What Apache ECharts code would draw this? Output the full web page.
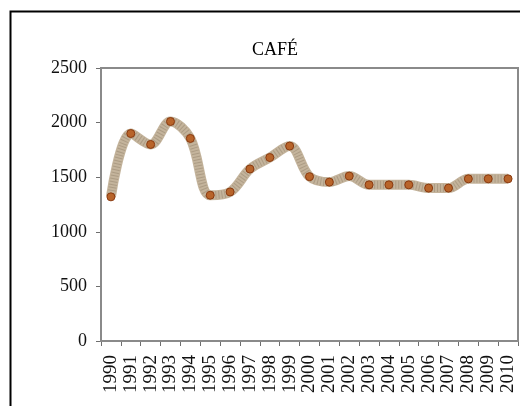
<!DOCTYPE html>
<html><head><meta charset="utf-8">
<script src="https://cdn.jsdelivr.net/npm/echarts@6/dist/echarts.min.js"></script>
<style>html,body{margin:0;padding:0;background:#fff}#c{width:520px;height:406px}</style>
</head><body><div id="c"></div>
<script>
var years = ['1990','1991','1992','1993','1994','1995','1996','1997','1998','1999','2000','2001','2002','2003','2004','2005','2006','2007','2008','2009','2010'];
var values = [1320,1900,1800,2010,1855,1335,1365,1575,1680,1785,1505,1455,1510,1430,1430,1430,1400,1400,1485,1485,1485];
var yTicks = [0,500,1000,1500,2000,2500];
var titleText = 'CAFÉ';

var chart = echarts.init(document.getElementById('c'), null, {renderer:'canvas'});
var font = '"Liberation Serif", "Times New Roman", serif';
chart.setOption({
  animation:false,
  backgroundColor:'#fff',
  title:{text:titleText,left:270,top:36,textAlign:'center',textStyle:{fontFamily:font,fontSize:18,fontWeight:'normal',color:'#000'}},
  graphic:[
    {type:'rect',shape:{x:10.5,y:11.5,width:520,height:420},style:{fill:null,stroke:'#000',lineWidth:2},silent:true},
    {type:'rect',shape:{x:101,y:68,width:417,height:273},style:{fill:null,stroke:'#8a8a8a',lineWidth:2},silent:true,z:1}
  ],
  grid:{left:101,top:68,right:2,bottom:65,containLabel:false},
  xAxis:{type:'category',data:years,boundaryGap:true,
    axisLine:{lineStyle:{color:'#6e6e6e',width:2}},
    axisTick:{show:true,inside:false,length:5,lineStyle:{color:'#6e6e6e'}},
    axisLabel:{rotate:90,interval:0,margin:14,fontFamily:font,fontSize:19,color:'#111'},
    splitLine:{show:false}},
  yAxis:{type:'value',min:yTicks[0],max:yTicks[yTicks.length-1],interval:500,
    axisLine:{show:true,lineStyle:{color:'#6e6e6e',width:2}},
    axisTick:{show:true,inside:false,length:5,lineStyle:{color:'#6e6e6e'}},
    axisLabel:{margin:14,fontFamily:font,fontSize:18,color:'#111',formatter:function(v){return String(v);}},
    splitLine:{show:false}},
  series:[
    {type:'line',data:values,smooth:0.35,symbol:'none',z:2,
     lineStyle:{color:'#c4b49c',width:10}},
    {type:'line',data:values,smooth:0.35,symbol:'none',z:3,
     lineStyle:{color:'#9c8c74',width:8,type:[1,2],opacity:0.6}},
    {type:'line',data:values,smooth:0.35,symbol:'circle',symbolSize:8,z:4,
     lineStyle:{width:0,opacity:0},
     itemStyle:{color:'#b8642a',borderColor:'#8a3a10',borderWidth:1}}
  ]
});
</script></body></html>
